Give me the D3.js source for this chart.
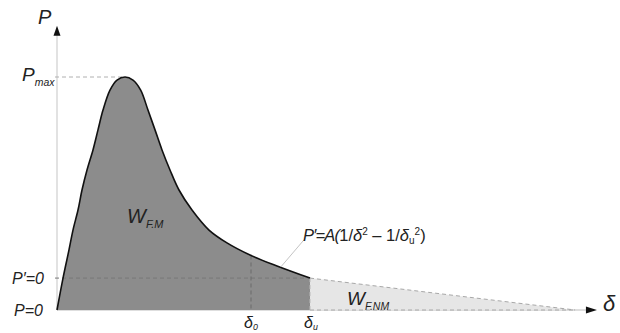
<!DOCTYPE html>
<html>
<head>
<meta charset="utf-8">
<script src="https://cdn.jsdelivr.net/npm/d3@7"></script>
<style>
  body { margin: 0; background: #fff; }
  text { font-family: "Liberation Sans", Arial, sans-serif; font-style: italic; fill: #222; }
</style>
</head>
<body>
<svg width="620" height="333"></svg>
<script>
// curve: delta (arbitrary units), P / Pmax
const deltaM = [0, 0.113, 0.225, 0.300, 0.394, 0.469, 0.563, 0.675, 0.769, 0.863, 0.994, 1.126, 1.276,
                1.426, 1.570, 1.707, 1.839, 1.970, 2.120, 2.289, 2.533, 2.852, 3.189, 3.621, 4.128, 4.747];
const loadM  = [0, 0.137, 0.258, 0.343, 0.429, 0.515, 0.601, 0.687, 0.773, 0.858, 0.944, 0.987, 1.0,
                0.987, 0.944, 0.858, 0.773, 0.687, 0.601, 0.515, 0.429, 0.343, 0.288, 0.236, 0.189, 0.137];
// non-measured tail (straight extrapolation)
const deltaNM = [4.747, 9.72];
const loadNM  = [0.137, 0];

const delta0 = 3.64, deltaU = 4.747, pPrime0 = 0.137, pMax = 1.0;
const xMax = 10.13, yMax = 1.22;

var svg = d3.select("svg");

var x = d3.scaleLinear().domain([0, 10]).range([57, 590]);
var y = d3.scaleLinear().domain([0, 1]).range([310, 77]);

var measured = deltaM.map((d, i) => ({ d: d, p: loadM[i] }));
var tail = deltaNM.map((d, i) => ({ d: d, p: loadNM[i] }));

var curve = d3.curveCatmullRom.alpha(0.5);
var area = d3.area().x(d => x(d.d)).y0(y(0)).y1(d => y(d.p)).curve(curve);
var line = d3.line().x(d => x(d.d)).y(d => y(d.p)).curve(curve);

// axes (light grey lines, black arrow heads)
svg.append("line")
  .attr("x1", x(0)).attr("y1", y(0)).attr("x2", x(0)).attr("y2", y(yMax) + 8)
  .attr("stroke", "#cfcfcf").attr("stroke-width", 1.2);
svg.append("line")
  .attr("x1", x(0)).attr("y1", y(0)).attr("x2", x(xMax) - 8).attr("y2", y(0))
  .attr("stroke", "#bdbdbd").attr("stroke-width", 1.2);

var ax = x(0), ay = y(yMax);
svg.append("path").attr("d", `M${ax},${ay} L${ax - 3.5},${ay + 10} L${ax + 3.5},${ay + 10}Z`).attr("fill", "#111");
var bx = x(xMax), by = y(0);
svg.append("path").attr("d", `M${bx},${by} L${bx - 11},${by - 3.5} L${bx - 11},${by + 3.5}Z`).attr("fill", "#111");

// areas
svg.append("path").datum(tail).attr("fill", "#e6e6e6")
  .attr("d", d3.area().x(d => x(d.d)).y0(y(0)).y1(d => y(d.p)));
svg.append("path").datum(measured).attr("fill", "#8c8c8c").attr("d", area);

var dash = "4,3";
function dashed(x1, y1, x2, y2, c) {
  svg.append("line").attr("x1", x1).attr("y1", y1).attr("x2", x2).attr("y2", y2)
    .attr("stroke", c || "#9a9a9a").attr("stroke-width", 1).attr("stroke-dasharray", dash);
}

// guide lines
dashed(x(0) - 2, y(pMax), x(1.25), y(pMax), "#b0b0b0");
dashed(x(0) - 2, y(pPrime0), x(deltaU), y(pPrime0), "#777");
dashed(x(delta0), y(0.234), x(delta0), y(0), "#6a6a6a");
dashed(x(deltaU), y(pPrime0), x(deltaU), y(0), "#bbbbbb");
dashed(x(deltaNM[0]), y(loadNM[0]), x(deltaNM[1]), y(loadNM[1]), "#a8a8a8");
dashed(x(deltaU), y(0), x(deltaNM[1]), y(0), "#a8a8a8");

// measured curve
svg.append("path").datum(measured).attr("fill", "none")
  .attr("stroke", "#111").attr("stroke-width", 1.6).attr("d", line);

// leader for formula
svg.append("line")
  .attr("x1", x(4.2)).attr("y1", y(0.185)).attr("x2", x(4.63)).attr("y2", y(0.300))
  .attr("stroke", "#c4c4c4").attr("stroke-width", 1);

// labels
function label(t, px, py, size, anchor) {
  return svg.append("text").attr("x", px).attr("y", py)
    .attr("font-size", size).attr("text-anchor", anchor || "start").text(t);
}
function sub(main, s, px, py, size, dyFrac) {
  var t = svg.append("text").attr("x", px).attr("y", py).attr("font-size", size);
  t.append("tspan").text(main);
  t.append("tspan").attr("font-size", size * 0.55).attr("dy", size * (dyFrac || 0.25)).text(s);
  return t;
}

label("P", 38, 24, 20);
sub("P", "max", 22, 81, 19);
label("P\u2032=0", 12, 284, 16);
label("P=0", 14, 316, 16);
sub("W", "F.M", 127, 223, 20);
sub("W", "F.NM", 347, 305, 19);
sub("\u03b4", "0", x(delta0) - 7, 328, 16, 0.12);
sub("\u03b4", "u", x(deltaU) - 6, 328, 16, 0.12);
label("\u03b4", 603, 311, 22);

var f = svg.append("text").attr("x", 303).attr("y", 241).attr("font-size", 16.5);
f.append("tspan").attr("letter-spacing", -0.8).text("P\u2032=A(");
f.append("tspan").attr("font-style", "normal").text("1/");
f.append("tspan").text("\u03b4");
f.append("tspan").attr("font-size", 10).attr("dy", -6).attr("font-style", "normal").text("2");
f.append("tspan").attr("dy", 6).attr("font-style", "normal").text(" \u2013 1/");
f.append("tspan").text("\u03b4");
f.append("tspan").attr("font-size", 10).attr("dy", 3).attr("font-style", "normal").text("u");
f.append("tspan").attr("font-size", 10).attr("dy", -9).attr("font-style", "normal").text("2");
f.append("tspan").attr("dy", 6).attr("font-style", "normal").text(")");
</script>
</body>
</html>
